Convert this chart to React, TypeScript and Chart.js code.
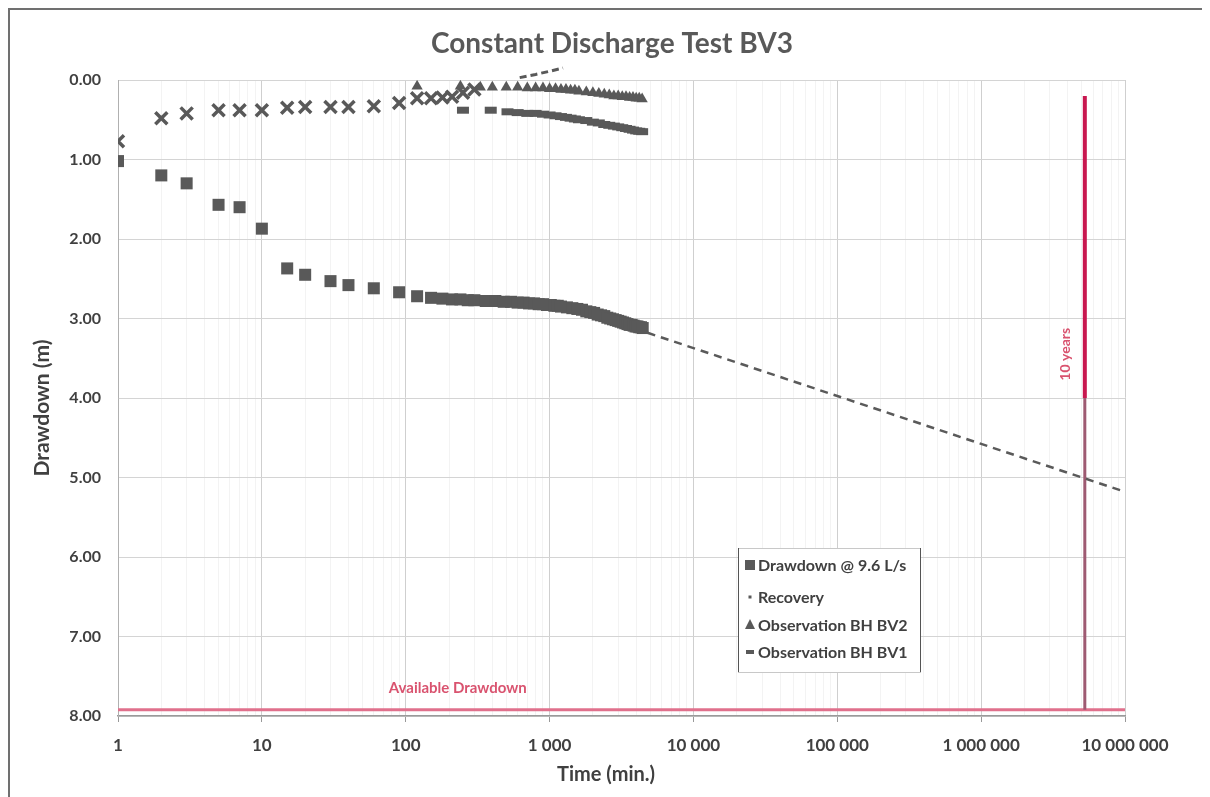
import React, { useEffect, useRef } from "react";
import { Chart, registerables } from "chart.js";

Chart.register(...registerables);

// ---------- data ----------
const chartTitle = "Constant Discharge Test BV3";
const xAxisTitle = "Time (min.)";
const yAxisTitle = "Drawdown (m)";

const xTickValues = [1, 10, 100, 1000, 10000, 100000, 1000000, 10000000];
const yTickValues = [0, 1, 2, 3, 4, 5, 6, 7, 8];

const drawdownTime = [1, 2, 3, 5, 7, 10, 15, 20, 30, 40, 60, 90, 120, 150, 180, 210, 240, 270, 300, 360, 420, 480, 540, 600, 660, 720, 780, 840, 900, 960, 1020, 1080, 1140, 1200, 1320, 1440, 1560, 1680, 1800, 1920, 2040, 2160, 2280, 2400, 2520, 2640, 2760, 2880, 3000, 3120, 3240, 3360, 3480, 3600, 3720, 3840, 3960, 4080, 4200, 4320, 4440];
const drawdownM = [1.02, 1.2, 1.3, 1.57, 1.6, 1.87, 2.37, 2.45, 2.53, 2.58, 2.62, 2.67, 2.72, 2.74, 2.75, 2.76, 2.76, 2.77, 2.77, 2.78, 2.78, 2.79, 2.79, 2.8, 2.8, 2.81, 2.81, 2.82, 2.82, 2.83, 2.83, 2.84, 2.84, 2.85, 2.86, 2.87, 2.88, 2.89, 2.91, 2.92, 2.93, 2.95, 2.96, 2.97, 2.99, 3.0, 3.01, 3.02, 3.03, 3.04, 3.05, 3.06, 3.07, 3.08, 3.08, 3.09, 3.1, 3.1, 3.11, 3.11, 3.12];

const recoveryTime = [1, 2, 3, 5, 7, 10, 15, 20, 30, 40, 60, 90, 120, 150, 180, 210, 250, 300];
const recoveryM = [0.77, 0.48, 0.42, 0.38, 0.38, 0.38, 0.35, 0.34, 0.34, 0.34, 0.33, 0.29, 0.23, 0.23, 0.22, 0.21, 0.16, 0.12];
const recoveryLateTime = [620, 800, 1000, 1240];
const recoveryLateM = [-0.03, -0.07, -0.11, -0.15];

const bv2Time = [120, 240, 330, 400, 500, 600, 700, 800, 900, 1000, 1100, 1200, 1300, 1400, 1500, 1600, 1800, 2000, 2200, 2400, 2600, 2800, 3000, 3200, 3400, 3600, 3800, 4000, 4200, 4400];
const bv2M = [0.08, 0.08, 0.09, 0.09, 0.09, 0.09, 0.1, 0.1, 0.1, 0.11, 0.11, 0.12, 0.12, 0.13, 0.13, 0.14, 0.15, 0.16, 0.17, 0.18, 0.19, 0.2, 0.2, 0.21, 0.21, 0.22, 0.22, 0.23, 0.23, 0.24];

const bv1Time = [250, 390, 510, 600, 700, 800, 900, 1000, 1100, 1200, 1300, 1400, 1500, 1600, 1800, 2000, 2200, 2400, 2600, 2800, 3000, 3200, 3400, 3600, 3800, 4000, 4200, 4400];
const bv1M = [0.38, 0.38, 0.4, 0.41, 0.42, 0.42, 0.43, 0.44, 0.45, 0.46, 0.47, 0.48, 0.49, 0.5, 0.51, 0.53, 0.54, 0.56, 0.57, 0.58, 0.59, 0.6, 0.61, 0.62, 0.63, 0.64, 0.645, 0.65];

const projectionTime = [4800, 10000000];
const projectionM = [3.18, 5.18];

const availableTime = [1, 10000000];
const availableM = [7.92, 7.92];
const availableLabel = "Available Drawdown";
const availableLabelAt = { time: 230, m: 7.65 };

const tenYearsTime = 5256000;
const tenYearsUpperM = [0.2, 4.0];
const tenYearsLowerM = [4.0, 7.92];
const tenYearsLabel = "10 years";
const tenYearsLabelM = 3.45;

const legendLabels = ["Drawdown @ 9.6 L/s", "Recovery", "Observation BH BV2", "Observation BH BV1"];

// ---------- helpers ----------
const pts = (xs: number[], ys: number[]) => xs.map((x, i) => ({ x, y: ys[i] }));
const fmtThousands = (v: number) => v.toLocaleString("en-US").replace(/,/g, " ");
const isDecade = (v: number) => xTickValues.some((d) => Math.abs(d - v) < 1e-9 * d);

const MARK = "#595959";
const RED_TEXT = "#d9536f";
const FONT = "Lato, 'Open Sans', sans-serif";

const decorPlugin = {
  id: "decor",
  afterDraw(chart: any) {
    const { ctx, scales } = chart;
    const xs = scales.x;
    const ys = scales.y;
    ctx.save();

    // chart title
    ctx.fillStyle = "#595959";
    ctx.font = `bold 28px ${FONT}`;
    ctx.textAlign = "center";
    ctx.textBaseline = "middle";
    ctx.fillText(chartTitle, 602, 34);

    // axis titles
    ctx.fillStyle = "#404040";
    ctx.font = `bold 20px ${FONT}`;
    ctx.fillText(xAxisTitle, 596, 765);
    ctx.save();
    ctx.translate(32, 398);
    ctx.rotate(-Math.PI / 2);
    ctx.font = `bold 21px ${FONT}`;
    ctx.fillText(yAxisTitle, 0, 0);
    ctx.restore();

    // Available drawdown label
    ctx.fillStyle = RED_TEXT;
    ctx.font = `bold 15px ${FONT}`;
    ctx.fillText(availableLabel, xs.getPixelForValue(availableLabelAt.time), ys.getPixelForValue(availableLabelAt.m));

    // 10 years label
    ctx.save();
    ctx.translate(xs.getPixelForValue(tenYearsTime) - 19, ys.getPixelForValue(tenYearsLabelM));
    ctx.rotate(-Math.PI / 2);
    ctx.font = `bold 14px ${FONT}`;
    ctx.fillText(tenYearsLabel, 0, 0);
    ctx.restore();

    // legend box
    const lx = 728, ly = 538, lw = 182, lh = 124;
    ctx.fillStyle = "#ffffff";
    ctx.fillRect(lx, ly, lw, lh);
    ctx.strokeStyle = "#c8c8c8";
    ctx.lineWidth = 1;
    ctx.strokeRect(lx + 0.5, ly + 0.5, lw, lh);
    ctx.strokeStyle = "#555";
    ctx.beginPath();
    ctx.moveTo(lx + 0.5, ly);
    ctx.lineTo(lx + 0.5, ly + lh);
    ctx.moveTo(lx + lw + 0.5, ly);
    ctx.lineTo(lx + lw + 0.5, ly + lh);
    ctx.stroke();

    const rowY = [555, 587, 615, 642];
    const mx = 740;
    ctx.font = `bold 16px ${FONT}`;
    ctx.textAlign = "left";
    ctx.textBaseline = "middle";
    legendLabels.forEach((label, i) => {
      const y = rowY[i];
      ctx.fillStyle = MARK;
      ctx.strokeStyle = MARK;
      if (i === 0) {
        ctx.fillRect(mx - 5, y - 5, 10, 10);
      } else if (i === 1) {
        ctx.fillRect(mx - 1.5, y - 1.5, 3, 3);
      } else if (i === 2) {
        ctx.beginPath();
        ctx.moveTo(mx, y - 6);
        ctx.lineTo(mx + 5, y + 4);
        ctx.lineTo(mx - 5, y + 4);
        ctx.closePath();
        ctx.fill();
      } else {
        ctx.fillRect(mx - 4, y - 2, 8, 4);
      }
      ctx.fillStyle = "#404040";
      ctx.fillText(label, mx + 8, y + 1);
    });

    ctx.restore();
  },
};

export default function App() {
  const canvasRef = useRef<HTMLCanvasElement | null>(null);

  useEffect(() => {
    if (!canvasRef.current) return;
    const chart = new Chart(canvasRef.current, {
      type: "scatter",
      data: {
        datasets: [
          {
            label: legendLabels[0],
            data: pts(drawdownTime, drawdownM),
            pointStyle: "rect",
            pointRadius: 8.5,
            pointBackgroundColor: MARK,
            pointBorderColor: MARK,
            pointBorderWidth: 0,
            showLine: false,
          },
          {
            label: legendLabels[2],
            data: pts(bv2Time, bv2M),
            pointStyle: "triangle",
            pointRadius: 6.5,
            pointBackgroundColor: MARK,
            pointBorderColor: MARK,
            pointBorderWidth: 0,
            showLine: false,
          },
          {
            label: legendLabels[3],
            data: pts(bv1Time, bv1M),
            pointStyle: "line",
            pointRadius: 6,
            pointBorderColor: MARK,
            pointBorderWidth: 7,
            showLine: false,
          },
          {
            label: legendLabels[1],
            data: pts(recoveryTime, recoveryM),
            pointStyle: "crossRot",
            pointRadius: 8.5,
            pointBorderColor: MARK,
            pointBorderWidth: 3.5,
            showLine: false,
          },
          {
            label: legendLabels[1] + " late",
            data: pts(recoveryLateTime, recoveryLateM),
            showLine: true,
            borderColor: MARK,
            borderWidth: 3,
            borderDash: [7, 4],
            pointRadius: 0,
            clip: false as any,
          },
          {
            label: "Projection",
            data: pts(projectionTime, projectionM),
            showLine: true,
            borderColor: "#5a5a5a",
            borderWidth: 2.5,
            borderDash: [8, 6],
            pointRadius: 0,
          },
          {
            label: "10 years upper",
            data: pts([tenYearsTime, tenYearsTime], tenYearsUpperM),
            showLine: true,
            borderColor: "#c8174f",
            borderWidth: 4,
            pointRadius: 0,
          },
          {
            label: "10 years lower",
            data: pts([tenYearsTime, tenYearsTime], tenYearsLowerM),
            showLine: true,
            borderColor: "#9e5a72",
            borderWidth: 3,
            pointRadius: 0,
          },
          {
            label: availableLabel,
            data: pts(availableTime, availableM),
            showLine: true,
            borderColor: "#e0708c",
            borderWidth: 3,
            pointRadius: 0,
          },
        ],
      },
      options: {
        animation: false,
        responsive: false,
        devicePixelRatio: 1,
        layout: { padding: { left: 0, top: 70, right: 83, bottom: 0 } },
        plugins: {
          legend: { display: false },
          title: { display: false },
          tooltip: { enabled: false },
        },
        scales: {
          x: {
            type: "logarithmic",
            min: 1,
            max: 10000000,
            afterBuildTicks: (scale: any) => {
              const t: any[] = [];
              xTickValues.forEach((d, i) => {
                t.push({ value: d });
                if (i < xTickValues.length - 1) {
                  for (let m = 2; m <= 9; m++) t.push({ value: d * m });
                }
              });
              scale.ticks = t;
            },
            afterFit: (scale: any) => {
              scale.height = 81;
            },
            ticks: {
              autoSkip: false,
              maxRotation: 0,
              minRotation: 0,
              padding: 13,
              color: "#404040",
              font: { family: FONT, size: 17, weight: "bold" },
              callback: (v: any) => (isDecade(Number(v)) ? fmtThousands(Number(v)) : ""),
            },
            grid: {
              color: (c: any) => (c.tick && isDecade(c.tick.value) ? "#cfcfcf" : "#f3f3f3"),
              tickColor: (c: any) => (c.tick && isDecade(c.tick.value) ? "#999" : "rgba(0,0,0,0)"),
              tickLength: 6,
              lineWidth: 1,
            },
            border: { color: "#9a9a9a", width: 1.5 },
          },
          y: {
            type: "linear",
            reverse: true,
            min: 0,
            max: 8,
            afterBuildTicks: (scale: any) => {
              scale.ticks = yTickValues.map((v) => ({ value: v }));
            },
            afterFit: (scale: any) => {
              scale.width = 108;
            },
            ticks: {
              padding: 17,
              color: "#404040",
              font: { family: FONT, size: 16, weight: "bold" },
              callback: (v: any) => Number(v).toFixed(2),
            },
            grid: {
              color: "#d4d4d4",
              drawTicks: false,
              lineWidth: 1,
            },
            border: { color: "#b0b0b0", width: 1 },
          },
        },
      },
      plugins: [decorPlugin],
    } as any);
    return () => chart.destroy();
  }, []);

  return (
    <div
      style={{
        width: 1200,
        height: 789,
        borderTop: "2px solid #707070",
        borderLeft: "2px solid #707070",
        borderRight: "2px solid #707070",
        background: "#fff",
        overflow: "hidden",
      }}
    >
      <canvas ref={canvasRef} width={1198} height={787} style={{ display: "block" }} />
    </div>
  );
}
